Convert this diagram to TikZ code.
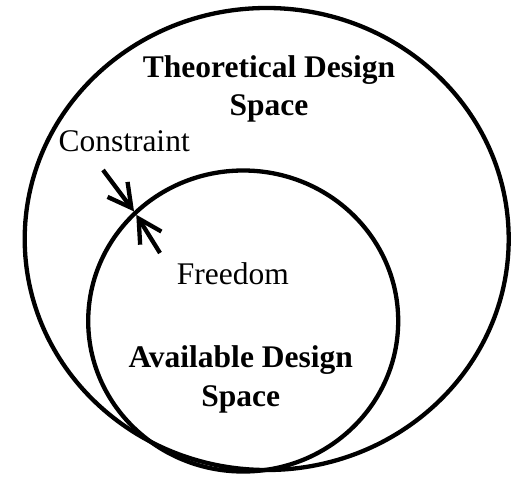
\documentclass[tikz,border=0pt]{standalone}
\usepackage{fontspec}
\setmainfont{Liberation Serif}
\usetikzlibrary{arrows.meta,shapes.geometric}

\tikzset{
  region/.style={draw, ellipse, line width=4.3pt, inner sep=0pt, outer sep=0pt},
  spacelbl/.style={font=\fontsize{31.5}{39}\selectfont\bfseries, align=center, anchor=base},
  notelbl/.style={font=\fontsize{31.5}{39}\selectfont, inner sep=0pt, anchor=base west},
  pusharrow/.style={line width=4.3pt, -{Straight Barb[length=23pt,width=25pt]}, shorten >=2pt}
}

\begin{document}
\begin{tikzpicture}[x=1pt, y=-1pt]
  \useasboundingbox (0,0) rectangle (516,476);

  %--- Design spaces ---
  \node[region, minimum width=484pt, minimum height=462pt] (theory) at (266.7,239) {};
  \node[region, minimum width=310pt, minimum height=301pt] (avail) at (243.2,321) {};

  %--- Labels (anchor sits on the last line) ---
  \node[spacelbl] (theorylbl) at (269,116) {Theoretical Design\\Space};
  \node[spacelbl] (availlbl) at (240.7,406.7) {Available Design\\Space};
  \node[notelbl] (constraint) at (58.3,151.7) {Constraint};
  \node[notelbl] (freedom) at (176.7,284) {Freedom};

  % Arrows pushing on the boundary
  \coordinate (cfrom) at (103,170);
  \coordinate (ffrom) at (160,253);
  \draw[pusharrow] (cfrom) -- (avail.135);
  \draw[pusharrow] (ffrom) -- (avail.135);
\end{tikzpicture}
\end{document}
